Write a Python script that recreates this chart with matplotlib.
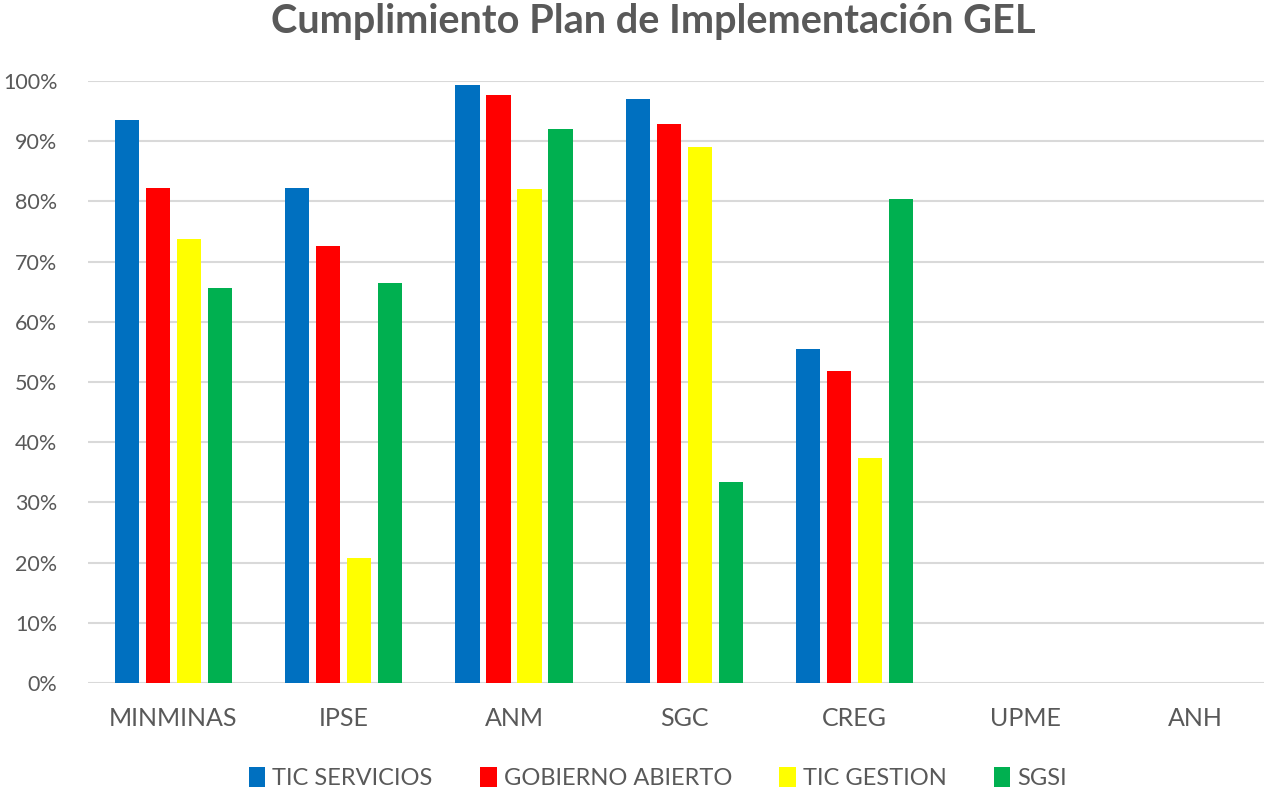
import matplotlib.pyplot as plt
import numpy as np

categories = ['MINMINAS', 'IPSE', 'ANM', 'SGC', 'CREG', 'UPME', 'ANH']
series_names = ['TIC SERVICIOS', 'GOBIERNO ABIERTO', 'TIC GESTION', 'SGSI']
tic_servicios = [0.935, 0.823, 0.993, 0.970, 0.555, 0, 0]
gobierno_abierto = [0.823, 0.726, 0.976, 0.929, 0.518, 0, 0]
tic_gestion = [0.737, 0.208, 0.820, 0.890, 0.374, 0, 0]
sgsi = [0.656, 0.665, 0.920, 0.334, 0.804, 0, 0]
colors = ['#0070C0', '#FF0000', '#FFFF00', '#00B050']

plt.rcParams['font.family'] = ['Lato', 'DejaVu Sans']
grey = '#595959'

fig = plt.figure(figsize=(12.64, 7.92), dpi=100)
ax = fig.add_axes([88 / 1264, 1 - 683 / 792, 7 * 170.4 / 1264, 602 / 792])

x = np.arange(len(categories))
step = 0.182
width = 0.142
all_series = [tic_servicios, gobierno_abierto, tic_gestion, sgsi]
for i, (vals, name, c) in enumerate(zip(all_series, series_names, colors)):
    ax.bar(x + (i - 1.5) * step, vals, width, color=c, label=name, zorder=3)

ax.set_xlim(-0.5, len(categories) - 0.5)
ax.set_ylim(0, 1)
ax.set_yticks(np.arange(0, 1.01, 0.1))
ax.set_yticklabels(['%d%%' % round(v * 100) for v in np.arange(0, 1.01, 0.1)])
ax.set_xticks(x)
ax.set_xticklabels(categories)
ax.tick_params(axis='both', length=0, colors=grey)
ax.tick_params(axis='x', pad=17, labelsize=18)
ax.tick_params(axis='y', pad=22, labelsize=15.5)
for s in ax.spines.values():
    s.set_visible(False)
ax.grid(axis='y', color='#d9d9d9', linewidth=1.5, zorder=0)

fig.text(653 / 1264, 1 - 22 / 792, 'Cumplimiento Plan de Implementación GEL',
         ha='center', va='center', fontsize=28.5, fontweight='bold', color=grey)

leg = fig.legend(loc='center', bbox_to_anchor=(658 / 1264, 1 - 778 / 792), ncol=4,
                 frameon=False, fontsize=17, handlelength=0.7, handleheight=0.9,
                 handletextpad=0.3, columnspacing=2.0)
for t in leg.get_texts():
    t.set_color(grey)

fig.savefig('out.png', dpi=100)
